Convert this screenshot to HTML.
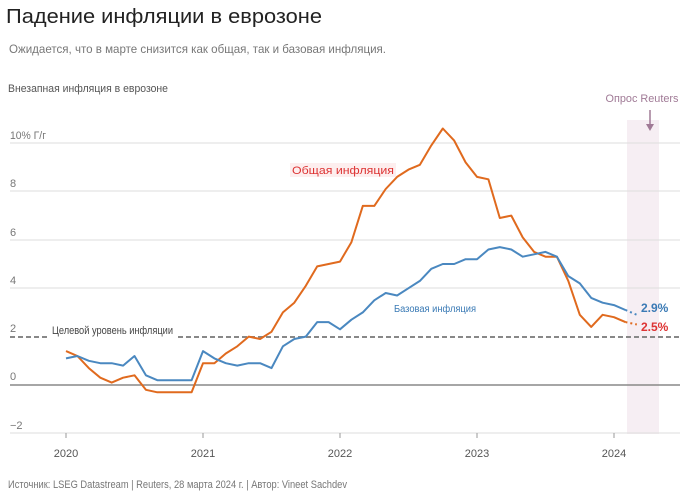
<!DOCTYPE html>
<html><head><meta charset="utf-8"><style>
body{margin:0;background:#fff;width:691px;height:495px;overflow:hidden;font-family:"Liberation Sans","DejaVu Sans",sans-serif}
</style></head><body>
<svg width="691" height="495" xmlns="http://www.w3.org/2000/svg" font-family="Liberation Sans, DejaVu Sans, sans-serif">
<text x="6" y="23" font-size="20" fill="#222" textLength="316" lengthAdjust="spacingAndGlyphs">Падение инфляции в еврозоне</text>
<text x="9" y="53" font-size="12" fill="#777" textLength="377" lengthAdjust="spacingAndGlyphs">Ожидается, что в марте снизится как общая, так и базовая инфляция.</text>
<text x="8" y="92" font-size="11" fill="#555" textLength="160" lengthAdjust="spacingAndGlyphs">Внезапная инфляция в еврозоне</text>
<rect x="627" y="120" width="32" height="314" fill="#f6eef3"/>
<text x="642" y="102" font-size="11" fill="#a07a96" text-anchor="middle" textLength="73" lengthAdjust="spacingAndGlyphs">Опрос Reuters</text>
<line x1="650" y1="110" x2="650" y2="128" stroke="#a07a96" stroke-width="1.5"/>
<path d="M646,124 L650,131 L654,124Z" fill="#a07a96"/>
<g stroke="#ddd" stroke-width="1">
<line x1="10" y1="143" x2="680" y2="143"/>
<line x1="10" y1="191" x2="680" y2="191"/>
<line x1="10" y1="240" x2="680" y2="240"/>
<line x1="10" y1="288" x2="680" y2="288"/>
<line x1="10" y1="433" x2="680" y2="433"/>
</g>
<line x1="10" y1="385" x2="680" y2="385" stroke="#888" stroke-width="1.5"/>
<line x1="10" y1="337" x2="680" y2="337" stroke="#888" stroke-width="2" stroke-dasharray="5,3"/>
<rect x="50" y="323" width="126" height="16" fill="#fff"/>
<text x="52" y="334" font-size="11" fill="#444" textLength="121" lengthAdjust="spacingAndGlyphs">Целевой уровень инфляции</text>
<g font-size="11" fill="#777">
<text x="10" y="139" textLength="36" lengthAdjust="spacingAndGlyphs">10% Г/г</text><text x="10" y="187">8</text><text x="10" y="236">6</text>
<text x="10" y="284">4</text><text x="10" y="332">2</text><text x="10" y="380">0</text><text x="10" y="429">−2</text>
</g>
<g stroke="#999"><line x1="66" y1="433" x2="66" y2="438"/><line x1="203" y1="433" x2="203" y2="438"/><line x1="340" y1="433" x2="340" y2="438"/><line x1="477" y1="433" x2="477" y2="438"/><line x1="614" y1="433" x2="614" y2="438"/></g>
<g font-size="11" fill="#555" text-anchor="middle">
<text x="66" y="457">2020</text><text x="203" y="457">2021</text><text x="340" y="457">2022</text><text x="477" y="457">2023</text><text x="614" y="457">2024</text>
</g>
<rect x="290" y="163" width="106" height="14" fill="#fdeeee"/>
<text x="292" y="174" font-size="11" fill="#d33" textLength="102" lengthAdjust="spacingAndGlyphs">Общая инфляция</text>
<text x="394" y="312" font-size="10" fill="#3a7ab5" textLength="82" lengthAdjust="spacingAndGlyphs">Базовая инфляция</text>
<polyline id="h" fill="none" stroke="#e06a1e" stroke-width="2" stroke-linejoin="round" points=""/>
<polyline id="c" fill="none" stroke="#4a88c0" stroke-width="2" stroke-linejoin="round" points=""/>
<line id="hd" stroke="#e06a1e" stroke-width="2" stroke-dasharray="2,3"/>
<line id="cd" stroke="#4a88c0" stroke-width="2" stroke-dasharray="2,3"/>
<text x="641" y="312" font-size="12" font-weight="bold" fill="#3a7ab5">2.9%</text>
<text x="641" y="331" font-size="12" font-weight="bold" fill="#d33">2.5%</text>
<text x="8" y="488" font-size="11" fill="#777" textLength="339" lengthAdjust="spacingAndGlyphs">Источник: LSEG Datastream | Reuters, 28 марта 2024 г. | Автор: Vineet Sachdev</text>
</svg>
<script>
var H=[1.4,1.2,0.7,0.3,0.1,0.3,0.4,-0.2,-0.3,-0.3,-0.3,-0.3,0.9,0.9,1.3,1.6,2.0,1.9,2.2,3.0,3.4,4.1,4.9,5.0,5.1,5.9,7.4,7.4,8.1,8.6,8.9,9.1,9.9,10.6,10.1,9.2,8.6,8.5,6.9,7.0,6.1,5.5,5.3,5.3,4.3,2.9,2.4,2.9,2.8,2.6];
var C=[1.1,1.2,1.0,0.9,0.9,0.8,1.2,0.4,0.2,0.2,0.2,0.2,1.4,1.1,0.9,0.8,0.9,0.9,0.7,1.6,1.9,2.0,2.6,2.6,2.3,2.7,3.0,3.5,3.8,3.7,4.0,4.3,4.8,5.0,5.0,5.2,5.2,5.6,5.7,5.6,5.3,5.4,5.5,5.3,4.5,4.2,3.6,3.4,3.3,3.1];
function X(i){return 66+i*137/12}function Y(v){return 385-v*24.2}
function p(a){return a.map(function(v,i){return X(i).toFixed(1)+","+Y(v).toFixed(1)}).join(" ")}
document.getElementById("h").setAttribute("points",p(H));
document.getElementById("c").setAttribute("points",p(C));
function d(id,a,b){var e=document.getElementById(id);e.setAttribute("x1",X(49));e.setAttribute("y1",Y(a));e.setAttribute("x2",X(50));e.setAttribute("y2",Y(b));}
d("hd",2.6,2.5);d("cd",3.1,2.9);
</script>
</body></html>
